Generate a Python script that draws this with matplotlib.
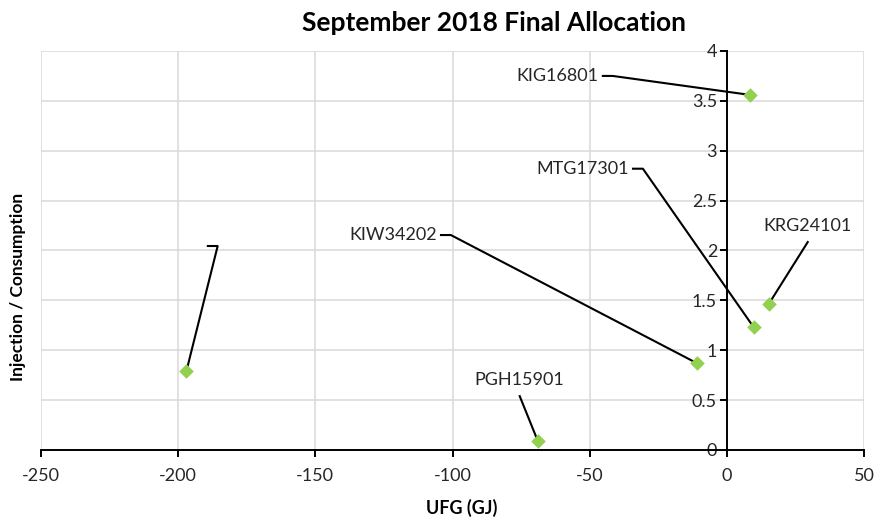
#!/usr/bin/env python3
"""Scatter of UFG vs injection/consumption ratio, September 2018 final allocation."""

import matplotlib
matplotlib.use("Agg")
import matplotlib.pyplot as plt

plt.rcParams['font.family'] = ['Lato', 'DejaVu Sans']

# data
ufg = [-197, 8.4, 9.8, 15.2, -10.9, -68.9]
ratio = [0.79, 3.56, 1.23, 1.46, 0.87, 0.09]
names = ['', 'KIG16801', 'MTG17301', 'KRG24101', 'KIW34202', 'PGH15901']

x_ticks = [-250, -200, -150, -100, -50, 0, 50]
y_ticks = [0, 0.5, 1, 1.5, 2, 2.5, 3, 3.5, 4]

# label layout: leader end point (data coords) and where the text sits
label_anchor = [(-185.6, 2.045), (-41.6, 3.75), (-30.6, 2.82),
                (29.5, 2.085), (-100.6, 2.155), (-75.5, 0.54)]
label_side = ['left', 'left', 'left', 'top', 'left', 'top']

green = '#92d050'
text_col = '#262626'

fig = plt.figure(figsize=(8.8, 5.22), dpi=100)
ax = fig.add_axes([41 / 880, 72 / 522, 823 / 880, 399 / 522])

ax.set_xlim(-250, 50)
ax.set_ylim(0, 4)
ax.set_xticks(x_ticks)
ax.set_yticks(y_ticks)
ax.set_xticklabels([str(v) for v in x_ticks])
ax.set_yticklabels(['0', '0.5', '1', '1.5', '2', '2.5', '3', '3.5', '4'])
ax.grid(True, color='#d9d9d9', linewidth=1.1)
ax.set_axisbelow(True)

for s in ['top', 'right']:
    ax.spines[s].set_visible(False)
ax.spines['left'].set_position(('data', 0))
ax.spines['left'].set_linewidth(1.4)
ax.spines['bottom'].set_linewidth(1.4)
ax.tick_params(axis='both', direction='out', length=5, width=1.4,
               labelsize=13, colors='black', labelcolor=text_col)
ax.tick_params(axis='x', pad=8)
ax.tick_params(axis='y', pad=2)

# leader lines and labels
for (px, py), name, (lx, ly), side in zip(zip(ufg, ratio), names, label_anchor, label_side):
    if side == 'left':
        ax.plot([px, lx, lx - 3.6], [py, ly, ly], color='black', lw=1.5,
                zorder=3, clip_on=False)
        if name:
            ax.text(lx - 5.2, ly, name, ha='right', va='center',
                    fontsize=13, color=text_col)
    else:
        ax.plot([px, lx], [py, ly], color='black', lw=1.5, zorder=3, clip_on=False)
        ax.text(lx, ly + 0.08, name, ha='center', va='bottom',
                fontsize=13, color=text_col)

ax.scatter(ufg, ratio, marker='D', s=55, color=green, zorder=4, linewidths=0)

fig.text(494 / 880, 1 - 23 / 522, 'September 2018 Final Allocation', ha='center',
         va='center', fontsize=19, fontweight='bold', color='black')
fig.text(462 / 880, 1 - 508 / 522, 'UFG (GJ)', ha='center', va='center',
         fontsize=13, fontweight='bold', color='black')
fig.text(18 / 880, 1 - 287 / 522, 'Injection / Consumption', ha='center',
         va='center', rotation=90, fontsize=12.5, fontweight='bold', color='black')

fig.savefig('out.png', dpi=100)
